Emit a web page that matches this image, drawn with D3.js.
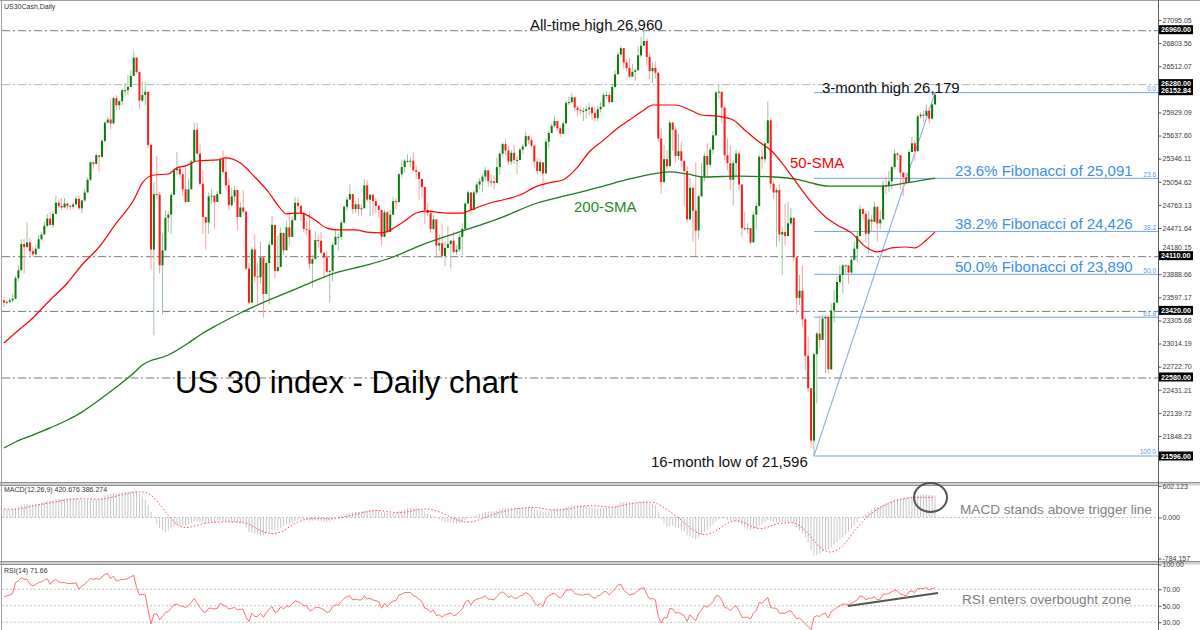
<!DOCTYPE html>
<html><head><meta charset="utf-8">
<script src="https://cdn.jsdelivr.net/npm/d3@7"></script>
<style>body{margin:0;background:#fff}svg{display:block}text{font-family:"Liberation Sans",Arial,sans-serif}</style>
</head><body><svg id="c" width="1200" height="630"></svg>
<script>
// ---------- DATA ----------
const firstOpen = 23560;
const closes = [
23530,23540,23560,23580,23840,23940,24270,24230,24290,24180,
24140,24210,24330,24390,24500,24590,24510,24650,24790,24750,
24730,24780,24750,24740,24770,24840,24720,24820,24920,25080,
25300,25280,25390,25370,25570,25800,25840,25790,26110,26020,
26070,26210,26210,26250,26390,26620,26440,26080,26150,26190,
25520,24200,24900,24890,24000,24190,24600,24640,24890,25200,
25220,25150,24960,24800,24960,25310,25710,25410,25030,24610,
24540,24870,24880,24800,24900,25340,25180,25010,24760,24870,
24950,24610,24730,24680,23960,23530,24200,23860,23850,24100,
23640,24030,24260,24510,23930,23980,24410,24190,24480,24360,
24570,24790,24750,24660,24460,24450,24020,24080,24320,24310,
24160,24100,23920,23930,24260,24360,24360,24540,24740,24830,
24900,24710,24770,24710,24720,25010,24830,24890,24810,24750,
24700,24360,24670,24420,24640,24810,24800,25150,25240,25320,
25320,25320,25200,25180,25090,24990,24700,24660,24460,24580,
24250,24280,24120,24220,24270,24310,24170,24200,24360,24460,
24780,24920,24700,24920,25020,25060,25120,25200,25060,25060,
25040,25240,25410,25530,25450,25310,25420,25330,25330,25460,
25500,25630,25580,25510,25310,25190,25300,25160,25560,25670,
25760,25820,25730,25660,25790,26050,26060,26120,25990,25960,
25950,25950,25970,25990,25920,25860,25970,26000,26150,26150,
26060,26250,26410,26660,26740,26560,26490,26380,26440,26460,
26650,26770,26830,26630,26450,26490,26430,25600,25050,25340,
25250,25800,25710,25380,25440,25320,25190,24580,24980,24690,
24440,24870,25120,25380,25270,25460,25640,26180,26190,25990,
25390,25290,25080,25290,25410,25020,24470,24460,24470,24290,
24640,24750,25370,25340,25540,25830,25030,24920,24950,24390,
24420,24370,24530,24600,24100,23590,23680,23320,22860,22450,
21790,22880,23140,23060,23330,23350,22690,23430,23530,23790,
23880,24000,24000,23910,24070,24210,24370,24710,24650,24400,
24580,24550,24740,24530,24580,25010,25000,25060,25240,25410,
25390,25170,25110,25050,25430,25540,25440,25880,25900,25890,
25950,25850,26030,26152.84];
const highs = [
23600,23560,23590,23640,23870,24000,24330,24330,24540,24350,
24230,24260,24380,24420,24550,24650,24680,24690,24880,24830,
24850,24850,24790,24770,24800,24880,24880,24830,24960,25110,
25310,25310,25410,25380,25590,25820,25870,26100,26130,26150,
26090,26220,26300,26400,26460,26700,26620,26350,26320,26310,
26060,25540,25050,25380,24930,24400,24700,24680,24920,25220,
25430,25250,25180,25270,25100,25330,25800,25800,25530,25200,
24560,24920,24960,24830,24940,25370,25450,25380,25100,24980,
25000,24830,24800,24950,24600,24030,24230,24390,24040,24300,
24100,24060,24300,24620,24450,24370,24480,24360,24560,24650,
24620,24860,24860,24760,24680,24560,24680,24130,24430,24380,
24420,24130,24180,23940,24290,24460,24400,24570,24760,24860,
25020,24850,24820,24850,24770,25090,25080,24900,24900,24850,
24760,24660,24700,24690,24700,24860,24850,25160,25330,25340,
25400,25370,25430,25260,25180,25030,24890,24790,24700,24640,
24510,24390,24530,24300,24500,24320,24420,24260,24400,24530,
24800,24950,24790,24950,25050,25100,25140,25240,25190,25140,
25130,25360,25440,25550,25600,25500,25460,25520,25380,25480,
25530,25690,25640,25610,25490,25360,25340,25250,25600,25700,
25790,25890,25820,25760,25820,26080,26130,26170,26110,26010,
25990,25990,26010,26050,26020,26000,26010,26060,26180,26200,
26180,26290,26460,26690,26770,26700,26600,26620,26540,26490,
26760,26880,26960,26850,26680,26560,26570,26440,25740,25520,
25450,25830,25810,25740,25660,25560,25260,25250,25100,24910,
25300,24890,25290,25420,25540,25490,25700,26200,26280,26170,
26010,25600,25510,25330,25460,25430,24940,24670,24530,24430,
24680,24800,25400,25460,25560,26070,25860,25060,24980,25030,
24490,24780,24800,24720,24480,24120,23880,24000,23350,23100,
22380,22900,23160,23370,23380,23380,23370,23520,23690,23860,
24000,24020,24010,23990,24100,24300,24430,24760,24720,24690,
24690,24640,24800,24740,24690,25070,25120,25190,25260,25470,
25430,25360,25120,25170,25470,25620,25580,25900,25930,25950,
26030,25990,26050,26179];
const lows = [
23480,23510,23520,23530,23570,23800,23930,23900,24250,24120,
24110,24130,24260,24310,24380,24480,24500,24480,24700,24720,
24700,24730,24710,24700,24710,24760,24700,24660,24800,24920,
25060,25220,25270,25180,25360,25550,25790,25720,25830,25960,
25960,26020,26140,26140,26250,26400,26420,25970,26060,26020,
25480,23950,23120,24830,23900,23380,24200,24420,24400,24900,
25140,25100,24880,24780,24850,24980,25330,25400,25010,24400,
24200,24400,24780,24460,24800,24950,25150,24950,24700,24740,
24800,24440,24610,24660,23940,23510,23530,23780,23510,23770,
23340,23640,23510,24270,23840,23920,23990,24130,24200,24250,
24400,24600,24700,24560,24420,24380,23950,23720,24090,24220,
24140,23840,23900,23530,23800,24300,24190,24320,24530,24690,
24840,24650,24660,24620,24630,24780,24800,24620,24630,24660,
24600,24250,24380,24400,24420,24660,24710,24790,25110,25170,
25290,25240,25180,25090,24820,24860,24520,24620,24410,24450,
24090,24180,24090,23990,24250,23960,24150,24130,24170,24130,
24480,24800,24640,24720,24890,24960,24920,25080,24990,24990,
24960,25070,25140,25370,25390,25270,25270,25280,25150,25320,
25400,25510,25530,25480,25230,25150,25170,24960,25180,25470,
25670,25740,25700,25620,25670,25830,26020,26040,25950,25880,
25900,25820,25860,25900,25830,25810,25820,25930,26020,26100,
26040,26060,26240,26430,26620,26480,26450,26360,26380,26330,
26500,26620,26780,26530,26350,26300,26360,25560,24900,25060,
25200,25280,25450,25300,25330,25250,24750,24540,24610,24300,
24120,24330,24990,25060,25110,25230,25400,25680,26100,25800,
25330,25200,24950,24760,25110,24950,24360,24440,24400,24270,
24310,24450,24740,25220,25290,25620,24960,24840,24240,24300,
23880,24250,24480,24500,24050,23380,23500,23230,22680,22400,
21700,21596,22260,22960,23100,22640,22640,22680,23280,23560,
23760,23650,23880,23770,23870,24060,24040,24400,24580,24290,
24150,24430,24600,24300,24460,24590,24900,24930,24960,25210,
25330,24960,24880,25020,25090,25440,25320,25460,25850,25800,
25870,25790,25840,26030];
// moving averages: [bar index, value]
const sma50 = [[0,23022],[4,23150],[10,23337],[16,23564],[22,23778],[27,24005],[33,24232],[39,24535],[45,24825],[48,25040],[52,25140],[57,25153],[60,25230],[63,25255],[67,25317],[74,25330],[77,25355],[82,25290],[87,25115],[92,24913],[95,24760],[98,24650],[103,24660],[108,24570],[112,24470],[116,24447],[122,24447],[126,24420],[131,24410],[138,24535],[143,24660],[146,24685],[154,24660],[159,24660],[162,24700],[169,24790],[173,24825],[179,24888],[185,25000],[189,25040],[194,25080],[199,25240],[203,25430],[208,25580],[213,25733],[217,25834],[222,25960],[225,26023],[233,26023],[238,25960],[242,25897],[248,25880],[253,25834],[257,25708],[262,25556],[266,25455],[271,25240],[275,25040],[280,24800],[285,24610],[289,24510],[294,24410],[299,24232],[303,24170],[308,24220],[313,24232],[316,24220],[320,24320],[323,24420]];
const sma200 = [[0,21697],[4,21773],[10,21860],[16,21950],[22,22050],[27,22150],[33,22302],[39,22466],[45,22643],[48,22744],[57,22870],[64,23022],[68,23122],[74,23248],[82,23400],[92,23564],[103,23730],[115,23905],[126,24005],[135,24106],[145,24260],[157,24410],[162,24470],[173,24610],[185,24787],[196,24888],[208,25000],[217,25090],[227,25165],[231,25180],[237,25153],[243,25115],[255,25127],[267,25115],[276,25080],[280,25040],[286,25000],[295,25000],[305,25000],[313,25040],[323,25100]];
const macdMain = [
150,150,150,155,180,210,245,250,255,250,
250,255,265,285,300,320,325,330,345,350,
355,360,365,365,365,365,350,340,335,335,
340,340,345,360,385,420,450,455,470,470,
475,485,490,500,505,515,505,450,400,340,
240,110,10,-120,-200,-240,-275,-250,-210,-170,
-150,-145,-150,-150,-130,-100,-75,-75,-85,-100,
-115,-100,-90,-85,-80,-60,-70,-85,-100,-100,
-95,-105,-110,-115,-190,-280,-290,-310,-330,-340,
-335,-300,-270,-250,-250,-240,-200,-170,-140,-120,
-100,-70,-50,-40,-40,-40,-60,-60,-50,-60,
-75,-85,-90,-80,-30,0,20,40,60,75,
90,100,105,110,115,130,135,140,150,150,
140,110,100,85,85,90,95,120,140,160,
175,185,185,180,170,150,115,85,50,30,
-10,-40,-70,-85,-95,-100,-110,-115,-105,-90,
-50,-10,0,25,50,70,90,110,115,118,
118,130,150,175,185,185,190,185,180,185,
190,200,205,200,175,145,130,105,115,130,
150,170,175,170,175,200,220,240,240,235,
230,225,220,215,205,190,185,180,190,195,
190,200,220,255,285,295,295,285,280,275,
285,300,315,305,280,260,240,100,-30,-120,
-180,-160,-160,-190,-210,-240,-270,-340,-360,-390,
-420,-380,-330,-270,-230,-185,-140,-80,-35,-20,
-30,-45,-65,-70,-65,-90,-150,-190,-215,-240,
-230,-215,-165,-130,-95,-50,-70,-90,-100,-95,
-90,-90,-85,-80,-110,-190,-250,-300,-380,-480,
-620,-730,-720,-690,-660,-630,-620,-570,-520,-470,
-420,-380,-330,-270,-210,-150,-90,-20,30,70,
110,150,185,200,220,250,270,290,320,350,
365,370,370,375,390,400,405,425,435,440,
440,435,430,420.676];
const macdSignal = [
160,160,158,157,158,163,172,183,195,207,
220,232,243,252,260,270,280,290,300,310,
322,333,342,348,352,356,358,358,356,354,
352,350,348,347,350,357,368,380,395,408,
422,436,450,462,472,482,490,492,490,480,
460,425,380,320,250,180,110,45,-20,-80,
-130,-165,-185,-195,-190,-180,-165,-150,-135,-120,
-110,-100,-95,-90,-88,-85,-83,-82,-82,-83,
-85,-88,-92,-97,-108,-130,-158,-188,-218,-250,
-275,-295,-305,-310,-305,-295,-280,-255,-220,-180,
-145,-110,-85,-62,-45,-33,-26,-22,-20,-20,
-20,-22,-24,-25,-24,-20,-14,-5,8,20,
35,50,62,75,87,100,112,122,130,134,
133,128,120,112,105,98,94,92,95,100,
108,118,130,142,152,160,163,162,155,143,
125,105,82,58,33,10,-15,-40,-60,-78,
-88,-90,-85,-75,-60,-40,-20,0,22,45,
65,82,98,112,125,138,150,160,168,175,
180,184,188,192,192,188,180,170,160,150,
145,142,142,145,150,158,165,175,188,200,
210,218,225,228,228,225,220,214,208,204,
200,198,200,208,220,235,250,262,272,280,
285,288,292,295,294,290,282,250,225,190,
150,110,75,35,-5,-50,-100,-150,-195,-235,
-275,-305,-320,-325,-320,-305,-285,-255,-220,-180,
-140,-110,-85,-70,-65,-70,-85,-105,-130,-160,
-185,-200,-210,-210,-200,-180,-160,-140,-125,-115,
-110,-105,-100,-95,-100,-125,-160,-200,-250,-310,
-375,-445,-510,-565,-610,-640,-658,-662,-650,-625,
-590,-540,-480,-410,-340,-270,-200,-130,-70,-10,
40,80,120,155,190,220,245,270,295,315,
330,345,357,367,374,379,382,384,385,386,
386,386,386,386.274];
const rsi = [
61,62,63,65,78,80,84,82,82,76,
74,76,78,79,81,83,76,80,82,79,
78,78,77,77,77,78,70,74,76,80,
83,82,83,82,85,88,89,83,86,80,
81,82,82,83,85,87,72,63,64,63,
45,28,40,40,33,37,42,43,47,51,
52,50,49,48,50,54,59,53,48,43,
42,47,47,46,47,53,51,49,46,47,
48,45,46,45,36,31,41,37,37,41,
36,42,46,49,42,43,49,46,50,49,
52,56,55,53,50,50,44,45,48,48,
47,45,42,43,49,51,51,55,59,61,
62,57,58,57,57,62,58,59,57,56,
55,47,53,49,53,56,56,63,64,66,
66,66,62,61,58,55,47,46,42,45,
38,39,36,39,40,41,38,39,43,46,
54,57,51,56,58,59,60,62,58,58,
57,61,65,67,64,60,62,59,59,62,
63,66,64,61,54,50,53,49,59,62,
64,65,62,59,63,69,69,70,65,64,
63,63,64,64,61,59,62,63,67,67,
63,67,71,75,76,69,66,63,64,65,
69,71,72,64,58,59,57,37,29,36,
35,47,46,41,42,40,38,31,39,35,
32,41,45,50,48,52,55,62,62,57,
48,47,44,48,50,44,36,36,36,34,
41,44,54,53,57,60,48,47,47,41,
41,41,43,44,39,34,35,32,28,25,
21,36,38,37,40,41,35,43,45,48,
50,52,52,51,53,55,57,62,61,57,
59,59,61,57,58,64,64,65,67,69,
68,64,63,62,67,68,66,71,71,71,
72,69,71,71.66];
const priceTicks = [27095.05,26803.56,26512.07,26220.58,25929.09,25637.60,25346.11,25054.62,24763.13,24471.64,24180.15,23888.66,23597.17,23305.68,23014.19,22722.70,22431.21,22139.72,21848.23,21556.74];
const hLevels = [26960, 26280, 24110, 23420, 22580];
const hLevelDark = [true, false, true, true, true];
const lastPrice = 26152.84;
const fibHigh = 26179, fibLow = 21596, fibStartBar = 281, fibEndBar = 323;
const fibLevels = [0, 23.6, 38.2, 50.0, 61.8, 100.0];
const macdTicks = [602.123, 0, -784.157];
const rsiTicks = [100, 70, 50, 30];
const rsiLevels = [70, 50, 30];

// ---------- SCALES ----------
const svg = d3.select("#c");
const AX = 1158.5;
const x = d3.scaleLinear().domain([0, closes.length - 1]).range([4, 935]);
const y = d3.scaleLinear().domain([21268.04, 27322.08]).range([482, 2]);
const ym = d3.scaleLinear().domain([-784.157, 602.123]).range([558.5, 486]);
const yr = d3.scaleLinear().domain([0, 100]).range([647, 564.5]);

const defs = svg.append("defs");
defs.append("clipPath").attr("id","cm").append("rect").attr("x",2).attr("y",2).attr("width",AX-2).attr("height",480);
defs.append("clipPath").attr("id","cd").append("rect").attr("x",2).attr("y",486).attr("width",AX-2).attr("height",75);
defs.append("clipPath").attr("id","cr").append("rect").attr("x",2).attr("y",565).attr("width",AX-2).attr("height",65);

// frames
svg.append("rect").attr("x",0).attr("y",0).attr("width",1200).attr("height",630).attr("fill","#fff");
[482, 561].forEach(yy=>{
  svg.append("rect").attr("x",0).attr("y",yy).attr("width",1200).attr("height",3.5).attr("fill","#d0d0d0");
  svg.append("line").attr("x1",0).attr("x2",1200).attr("y1",yy+0.5).attr("y2",yy+0.5).attr("stroke","#909090");
  svg.append("line").attr("x1",0).attr("x2",AX).attr("y1",yy+3.5).attr("y2",yy+3.5).attr("stroke","#909090");
});
svg.append("line").attr("x1",0).attr("x2",1200).attr("y1",0.5).attr("y2",0.5).attr("stroke","#a0a0a0");
svg.append("line").attr("x1",1.5).attr("x2",1.5).attr("y1",0).attr("y2",630).attr("stroke","#a0a0a0");

// ---------- MAIN PANEL ----------
const gm = svg.append("g").attr("clip-path","url(#cm)");
hLevels.forEach((v,k)=>{
  gm.append("line").attr("x1",2).attr("x2",AX).attr("y1",y(v)).attr("y2",y(v))
    .attr("stroke", hLevelDark[k] ? "#787878" : "#b4b4b4").attr("stroke-width",1)
    .attr("stroke-dasharray","8,3,2,3");
});
// fibonacci
const fibBlue = "#6fa6ec";
const fibVal = p => fibHigh - p/100*(fibHigh - fibLow);
fibLevels.forEach(p=>{
  const yy = y(fibVal(p));
  gm.append("line").attr("x1",x(fibStartBar)).attr("x2",AX).attr("y1",yy).attr("y2",yy).attr("stroke",fibBlue).attr("stroke-width",1);
  gm.append("text").attr("x",1156).attr("y",yy-1.5).attr("text-anchor","end").attr("font-size",6.5).attr("fill","#5b98e6").text(p.toFixed(1));
});
gm.append("line").attr("x1",x(fibStartBar)).attr("y1",y(fibLow)).attr("x2",x(fibEndBar)).attr("y2",y(fibHigh)).attr("stroke",fibBlue).attr("stroke-width",1);

// candles
const gc = gm.append("g");
closes.forEach((c,i)=>{
  const o = i === 0 ? firstOpen : closes[i-1];
  const hi = Math.max(highs[i], o, c), lo = Math.min(lows[i], o, c);
  const up = c >= o;
  gc.append("line").attr("x1",x(i)).attr("x2",x(i)).attr("y1",y(hi)).attr("y2",y(lo))
    .attr("stroke", up ? "#9cc49c" : "#ffa0a0").attr("stroke-width",1);
  const top = y(Math.max(o,c)), bot = y(Math.min(o,c));
  gc.append("rect").attr("x",x(i)-1).attr("y",top).attr("width",2).attr("height",Math.max(1,bot-top))
    .attr("fill", up ? "#0b7a0b" : "#ff1a1a");
});
// SMAs
const smaLine = d3.line().x(d=>x(d[0])).y(d=>y(d[1])).curve(d3.curveMonotoneX);
gm.append("path").attr("d",smaLine(sma200)).attr("fill","none").attr("stroke","#1d7a1d").attr("stroke-width",1.3);
gm.append("path").attr("d",smaLine(sma50)).attr("fill","none").attr("stroke","#f00").attr("stroke-width",1.2);

// ---------- MACD PANEL ----------
const gd = svg.append("g").attr("clip-path","url(#cd)");
gd.append("line").attr("x1",2).attr("x2",AX).attr("y1",ym(0)).attr("y2",ym(0)).attr("stroke","#c4c4c4").attr("stroke-dasharray","2,2");
macdMain.forEach((v,i)=>{
  gd.append("line").attr("x1",x(i)).attr("x2",x(i)).attr("y1",ym(0)).attr("y2",ym(v)).attr("stroke","#c6c6c6").attr("stroke-width",1);
});
gd.append("path").attr("d", d3.line().x((d,i)=>x(i)).y(d=>ym(d))(macdSignal))
  .attr("fill","none").attr("stroke","#ff4a4a").attr("stroke-width",1).attr("stroke-dasharray","1.5,2");

// ---------- RSI PANEL ----------
const gr = svg.append("g").attr("clip-path","url(#cr)");
rsiLevels.forEach(v=>{
  gr.append("line").attr("x1",2).attr("x2",AX).attr("y1",yr(v)).attr("y2",yr(v)).attr("stroke","#c4c4c4").attr("stroke-dasharray","2,2");
});
gr.append("path").attr("d", d3.line().x((d,i)=>x(i)).y(d=>yr(d))(rsi))
  .attr("fill","none").attr("stroke","#ff6e6e").attr("stroke-width",1);

// ---------- AXES ----------
svg.append("line").attr("x1",AX).attr("x2",AX).attr("y1",0).attr("y2",630).attr("stroke","#5a5a5a");
function styleAxis(g){
  g.select(".domain").remove();
  g.attr("font-family","Liberation Sans, Arial, sans-serif").attr("font-size",7);
  g.selectAll("line").attr("stroke","#555");
  g.selectAll("text").attr("fill","#3a3a3a");
}
// value boxes (MT4-style price labels)
const boxes = hLevels.map(v=>({v, t:v.toFixed(2), dy:-1}))
  .concat([{v:lastPrice, t:lastPrice.toFixed(2), dy:-4}, {v:fibLow, t:fibLow.toFixed(2), dy:0}]);
boxes.forEach(b=>{ b.yy = y(b.v) + b.dy; });

const priceAxis = svg.append("g").attr("transform",`translate(${AX},0)`)
  .call(d3.axisRight(y).tickValues(priceTicks).tickSize(3).tickPadding(1).tickFormat(d=>d.toFixed(2))).call(styleAxis);
// tick labels that sit under a value box are hidden (as in the terminal), close ones are nudged
priceAxis.selectAll(".tick").each(function(d){
  const ty = y(d);
  const near = boxes.map(b=>b.yy - ty).sort((a,b)=>Math.abs(a)-Math.abs(b))[0];
  const t = d3.select(this).select("text");
  if (Math.abs(near) < 4) t.remove();
  else if (Math.abs(near) < 8) t.attr("y", near > 0 ? -(8 - Math.abs(near)) : (8 - Math.abs(near)));
});
svg.append("g").attr("transform",`translate(${AX},0)`)
  .call(d3.axisRight(ym).tickValues(macdTicks).tickSize(3).tickPadding(1).tickFormat(d=>d.toFixed(3))).call(styleAxis);
svg.append("g").attr("transform",`translate(${AX},0)`)
  .call(d3.axisRight(yr).tickValues(rsiTicks).tickSize(3).tickPadding(1).tickFormat(d=>d.toFixed(2))).call(styleAxis);

boxes.forEach(b=>{
  svg.append("rect").attr("x",AX+0.5).attr("y",b.yy-4.5).attr("width",34).attr("height",9).attr("fill","#000");
  svg.append("text").attr("x",AX+2.5).attr("y",b.yy+2.6).attr("font-size",7.2).attr("font-weight","bold").attr("fill","#fff").text(b.t);
});

// ---------- TEXTS ----------
function txt(t, xx, yy, size, fill){
  return svg.append("text").attr("x",xx).attr("y",yy).attr("font-size",size).attr("fill",fill).text(t);
}
txt("US30Cash,Daily", 4, 9, 7, "#333");
txt(`MACD(12,26,9) ${macdMain[macdMain.length-1].toFixed(3)} ${macdSignal[macdSignal.length-1].toFixed(3)}`, 4, 492, 7, "#333");
txt(`RSI(14) ${rsi[rsi.length-1].toFixed(2)}`, 4, 573, 7, "#333");

txt("All-time high 26,960", 530, 30, 15, "#111");
txt("3-month high 26,179", 822, 92.5, 15, "#111");
txt("50-SMA", 790, 168, 15, "#f00");
txt("200-SMA", 574, 211.5, 15, "#1f8a1f");
txt("23.6% Fibonacci of 25,091", 955, 176, 15, "#3d8ee8");
txt("38.2% Fibonacci of 24,426", 955, 229, 15, "#3d8ee8");
txt("50.0% Fibonacci of 23,890", 955, 272, 15, "#3d8ee8");
txt("US 30 index - Daily chart", 175, 393, 31, "#000");
txt("16-month low of 21,596", 651, 466.5, 15, "#111");
txt("MACD stands above trigger line", 960, 514, 13.6, "#808080");
txt("RSI enters overbought zone", 962, 604, 13.6, "#808080");

svg.append("ellipse").attr("cx",930.5).attr("cy",497.5).attr("rx",16.5).attr("ry",14.5)
  .attr("fill","none").attr("stroke","#555").attr("stroke-width",2);
svg.append("line").attr("x1",848).attr("y1",606).attr("x2",938).attr("y2",593)
  .attr("stroke","#555").attr("stroke-width",2);
</script></body></html>
